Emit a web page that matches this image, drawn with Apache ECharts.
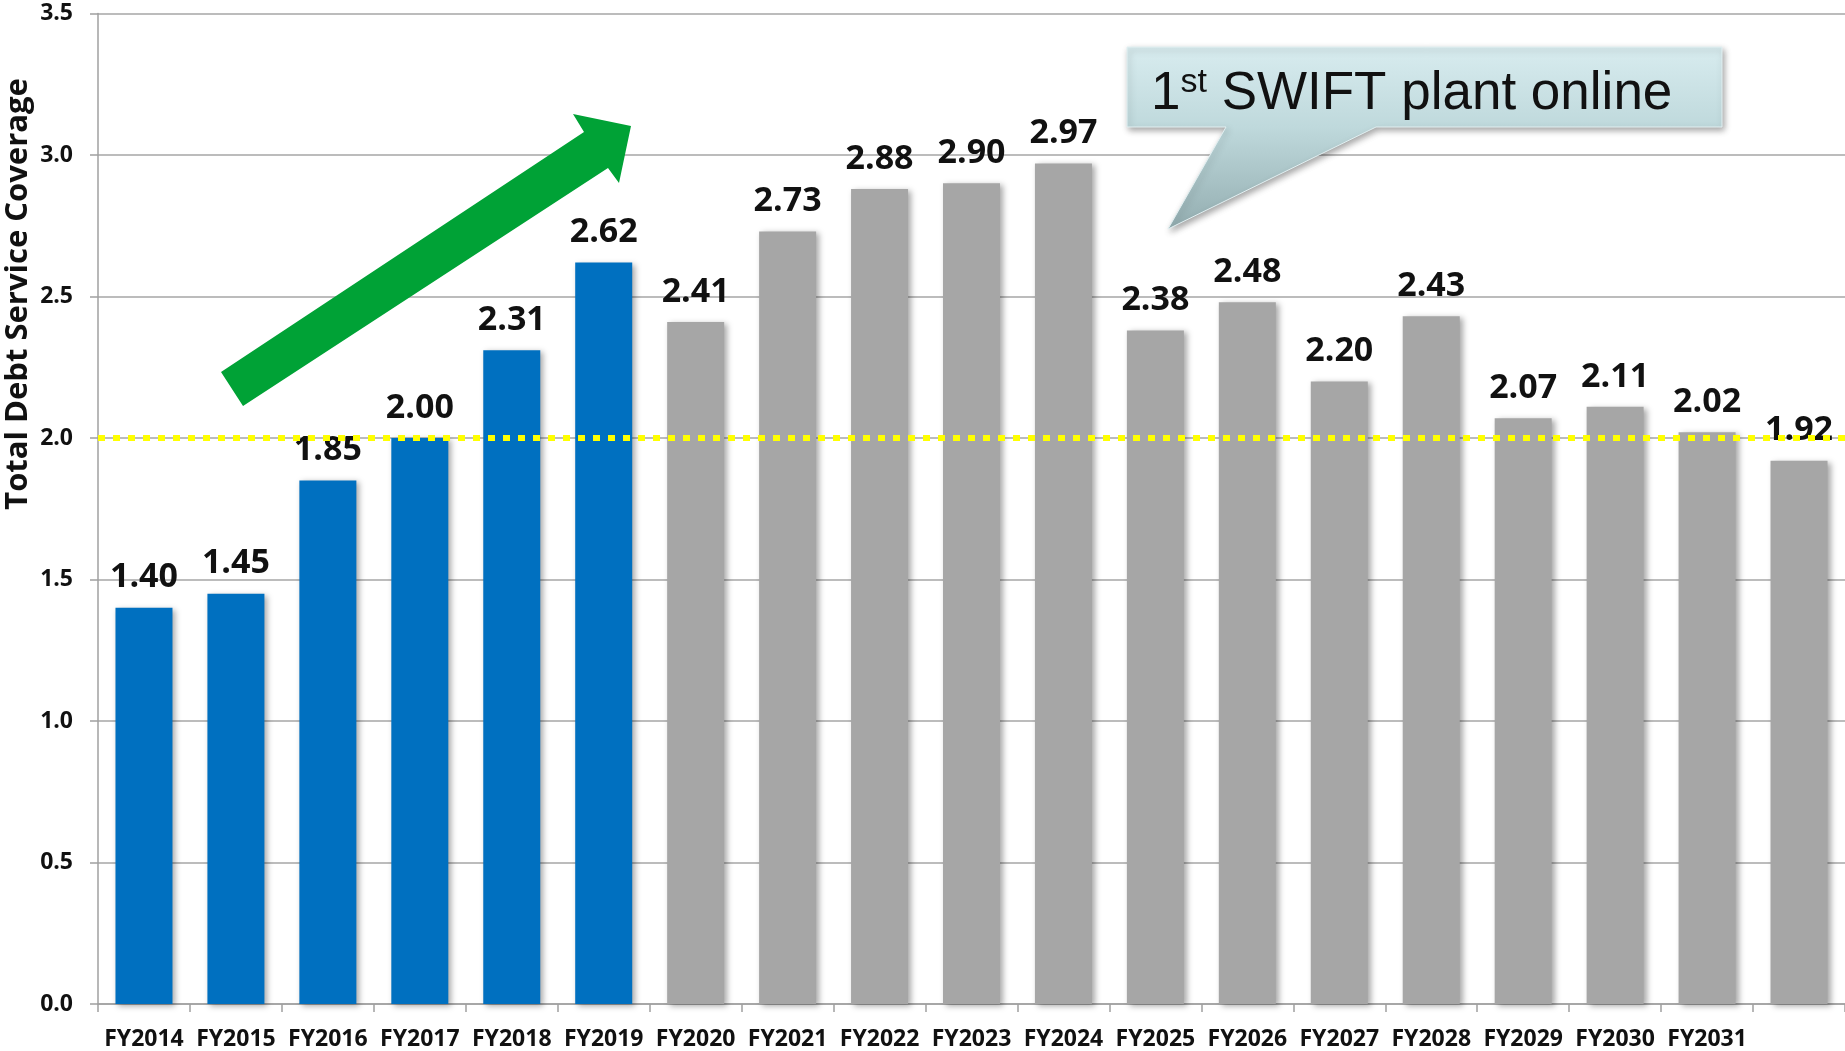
<!DOCTYPE html>
<html>
<head>
<meta charset="utf-8">
<title>Total Debt Service Coverage</title>
<script src="https://cdn.jsdelivr.net/npm/echarts@6/dist/echarts.min.js"></script>
<style>
  html, body { margin: 0; padding: 0; background: #ffffff; }
  #chart { width: 1845px; height: 1051px; }
</style>
</head>
<body>
<div id="chart"></div>
<script>
// Fiscal years on the category axis (the final projected year carries no label)
const fiscalYears = ['FY2014', 'FY2015', 'FY2016', 'FY2017', 'FY2018', 'FY2019',
  'FY2020', 'FY2021', 'FY2022', 'FY2023', 'FY2024', 'FY2025', 'FY2026',
  'FY2027', 'FY2028', 'FY2029', 'FY2030', 'FY2031', ''];

// Coverage ratios: historical years (blue) followed by projected years (gray)
const actualCoverage = [1.40, 1.45, 1.85, 2.00, 2.31, 2.62];
const projectedCoverage = [2.41, 2.73, 2.88, 2.90, 2.97, 2.38, 2.48, 2.20, 2.43, 2.07, 2.11, 2.02, 1.92];

// Target coverage threshold
const coverageTarget = 2.0;

// Value-axis ticks
const yTicks = [0, 0.5, 1.0, 1.5, 2.0, 2.5, 3.0, 3.5];

const BLUE = '#0070C0';
const GRAY = '#A6A6A6';
const FONT = '"Open Sans", "Noto Sans", sans-serif';

const barData = actualCoverage.map(v => ({ value: v, itemStyle: { color: BLUE } }))
  .concat(projectedCoverage.map(v => ({ value: v, itemStyle: { color: GRAY } })));

const chart = echarts.init(document.getElementById('chart'), null, { renderer: 'canvas' });

const option = {
  backgroundColor: '#ffffff',
  animation: false,
  grid: { left: 98, right: 0, top: 13.5, bottom: 46, containLabel: false },
  xAxis: {
    type: 'category',
    data: fiscalYears,
    boundaryGap: true,
    axisLine: { show: true, lineStyle: { color: '#A0A0A0', width: 1.5 } },
    axisTick: { show: true, length: 8, lineStyle: { color: '#A0A0A0', width: 1.5 } },
    axisLabel: {
      interval: 0, margin: 24, color: '#111111',
      fontFamily: FONT, fontWeight: 'bold', fontSize: 23
    },
    splitLine: { show: false }
  },
  yAxis: {
    type: 'value',
    min: yTicks[0],
    max: yTicks[yTicks.length - 1],
    interval: 0.5,
    axisLine: { show: true, lineStyle: { color: '#A0A0A0', width: 1.5 } },
    axisTick: { show: true, length: 8, lineStyle: { color: '#A0A0A0', width: 1.5 } },
    axisLabel: {
      margin: 25, color: '#111111',
      fontFamily: FONT, fontWeight: 'bold', fontSize: 23,
      formatter: v => v.toFixed(1)
    },
    splitLine: { show: true, lineStyle: { color: '#A6A6A6', width: 1.5 } }
  },
  series: [
    {
      name: 'Total Debt Service Coverage',
      type: 'bar',
      data: barData,
      barWidth: 57,
      z: 2,
      itemStyle: {
        shadowColor: 'rgba(0,0,0,0.35)',
        shadowBlur: 6,
        shadowOffsetX: 3,
        shadowOffsetY: 2
      },
      label: {
        show: true,
        position: 'top',
        distance: 13,
        color: '#111111',
        fontFamily: FONT,
        fontWeight: 'bold',
        fontSize: 34,
        formatter: p => p.value.toFixed(2)
      }
    },
    {
      name: 'Target',
      type: 'line',
      data: [],
      z: 10,
      markLine: {
        silent: true,
        symbol: ['none', 'none'],
        label: { show: false },
        lineStyle: { color: '#FFFF00', width: 6, type: [7, 8], opacity: 1 },
        data: [{ yAxis: coverageTarget }]
      }
    }
  ],
  graphic: [
    // Axis title, placed along the upper part of the value axis
    {
      type: 'text',
      x: 18, y: 294,
      rotation: Math.PI / 2,
      z: 50,
      style: {
        text: 'Total Debt Service Coverage',
        fill: '#111111',
        font: 'bold 31px ' + FONT,
        align: 'center',
        verticalAlign: 'middle'
      }
    },
    // Green trend arrow over the historical years
    {
      type: 'polygon',
      z: 50,
      shape: {
        points: [
          [221, 372], [584, 132], [573, 114], [631, 126],
          [619, 183], [608, 168], [243, 406]
        ]
      },
      style: { fill: '#00A236' }
    },
    // Callout bubble
    {
      type: 'polygon',
      z: 50,
      shape: {
        points: [
          [1127, 47], [1722, 47], [1722, 127], [1376, 127],
          [1168, 229], [1226, 127], [1127, 127]
        ]
      },
      style: {
        fill: new echarts.graphic.LinearGradient(0, 0, 0, 1, [
          { offset: 0, color: '#D8ECEF' },
          { offset: 0.44, color: '#BFD9DC' },
          { offset: 1, color: '#93ADB0' }
        ]),
        stroke: '#E2F0F2',
        lineWidth: 1,
        shadowColor: 'rgba(0,0,0,0.35)',
        shadowBlur: 6,
        shadowOffsetX: 2,
        shadowOffsetY: 3
      }
    },
    {
      type: 'text',
      x: 1151, y: 92,
      z: 60,
      style: {
        text: '{n|1}{s|st}{n| SWIFT plant online}',
        align: 'left',
        verticalAlign: 'middle',
        rich: {
          n: {
            fontFamily: '"Liberation Sans", Arial, sans-serif',
            fontSize: 53, lineHeight: 58, fill: '#111111',
            verticalAlign: 'bottom'
          },
          s: {
            fontFamily: '"Liberation Sans", Arial, sans-serif',
            fontSize: 34, lineHeight: 58, fill: '#111111',
            verticalAlign: 'top', padding: [3, 0, 0, 0]
          }
        }
      }
    }
  ]
};

chart.setOption(option);
</script>
</body>
</html>
